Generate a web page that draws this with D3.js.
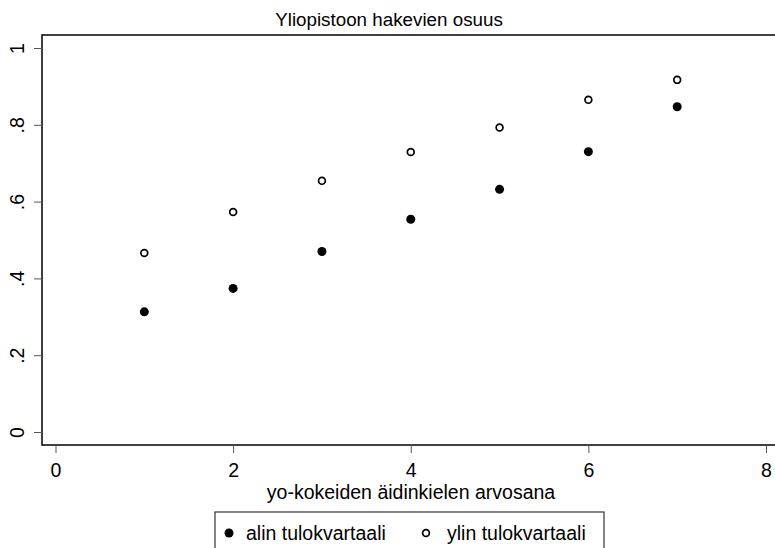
<!DOCTYPE html>
<html>
<head>
<meta charset="utf-8">
<script src="https://cdn.jsdelivr.net/npm/d3@7"></script>
<style>
  body { margin: 0; background: #fff; }
  svg { font-family: Arial, "Liberation Sans", sans-serif; }
</style>
</head>
<body>
<svg id="chart" width="775" height="548"></svg>
<script>
// arvosana 1..7
const grades = [1, 2, 3, 4, 5, 6, 7];
const alin = [0.313, 0.374, 0.470, 0.554, 0.632, 0.730, 0.847];
const ylin = [0.466, 0.573, 0.654, 0.729, 0.793, 0.865, 0.917];
const xTicks = [0, 2, 4, 6, 8];
const yTicks = [0, 0.2, 0.4, 0.6, 0.8, 1];
const yTickLabels = ["0", ".2", ".4", ".6", ".8", "1"];

const svg = d3.select("#chart");
const frame = { left: 42, top: 35, right: 776, bottom: 445 };
const fs = "19.5px";

const x = d3.scaleLinear().domain([0, 8]).range([55.5, 766]);
const y = d3.scaleLinear().domain([0, 1]).range([432, 48]);

// plot frame
svg.append("rect")
  .attr("x", frame.left)
  .attr("y", frame.top)
  .attr("width", frame.right - frame.left)
  .attr("height", frame.bottom - frame.top)
  .attr("fill", "none")
  .attr("stroke", "#000")
  .attr("stroke-width", 1.5);

// title
svg.append("text")
  .attr("x", 389)
  .attr("y", 26)
  .attr("text-anchor", "middle")
  .style("font-size", "18.8px")
  .text("Yliopistoon hakevien osuus");

// x axis
const xAxis = svg.append("g")
  .attr("transform", `translate(0,${frame.bottom})`)
  .call(d3.axisBottom(x).tickValues(xTicks).tickSize(8).tickPadding(10).tickFormat(d3.format("d")));
xAxis.select(".domain").remove();
xAxis.selectAll("line").attr("stroke", "#555");
xAxis.selectAll("text").style("font-size", fs).attr("fill", "#000").attr("font-family", null);

svg.append("text")
  .attr("x", 411)
  .attr("y", 499)
  .attr("text-anchor", "middle")
  .style("font-size", fs)
  .text("yo-kokeiden äidinkielen arvosana");

// y axis
const yAxis = svg.append("g")
  .attr("transform", `translate(${frame.left},0)`)
  .call(d3.axisLeft(y).tickValues(yTicks).tickSize(8).tickPadding(0)
    .tickFormat((d, i) => yTickLabels[i]));
yAxis.select(".domain").remove();
yAxis.selectAll("line").attr("stroke", "#555");
yAxis.selectAll("text")
  .style("font-size", fs)
  .attr("fill", "#000")
  .attr("font-family", null)
  .attr("x", null).attr("dy", null)
  .attr("text-anchor", "middle")
  .attr("transform", "translate(-25,0) rotate(-90)")
  .attr("y", 0)
  .attr("dominant-baseline", "central");

// points
svg.append("g")
  .selectAll("circle")
  .data(grades.map((g, i) => ({ g, v: ylin[i] })))
  .join("circle")
  .attr("cx", d => x(d.g))
  .attr("cy", d => y(d.v))
  .attr("r", 3.4)
  .attr("fill", "#fff")
  .attr("stroke", "#000")
  .attr("stroke-width", 1.7);

svg.append("g")
  .selectAll("circle")
  .data(grades.map((g, i) => ({ g, v: alin[i] })))
  .join("circle")
  .attr("cx", d => x(d.g))
  .attr("cy", d => y(d.v))
  .attr("r", 4.5)
  .attr("fill", "#000");

// legend
const legend = svg.append("g");
legend.append("rect")
  .attr("x", 215).attr("y", 512)
  .attr("width", 389).attr("height", 50)
  .attr("fill", "#fff")
  .attr("stroke", "#333")
  .attr("stroke-width", 1.2);
legend.append("circle").attr("cx", 229).attr("cy", 533).attr("r", 4.5).attr("fill", "#000");
legend.append("text").attr("x", 246).attr("y", 540).style("font-size", fs).text("alin tulokvartaali");
legend.append("circle").attr("cx", 426).attr("cy", 533).attr("r", 3.4)
  .attr("fill", "#fff").attr("stroke", "#000").attr("stroke-width", 1.7);
legend.append("text").attr("x", 447).attr("y", 540).style("font-size", fs).text("ylin tulokvartaali");
</script>
</body>
</html>
